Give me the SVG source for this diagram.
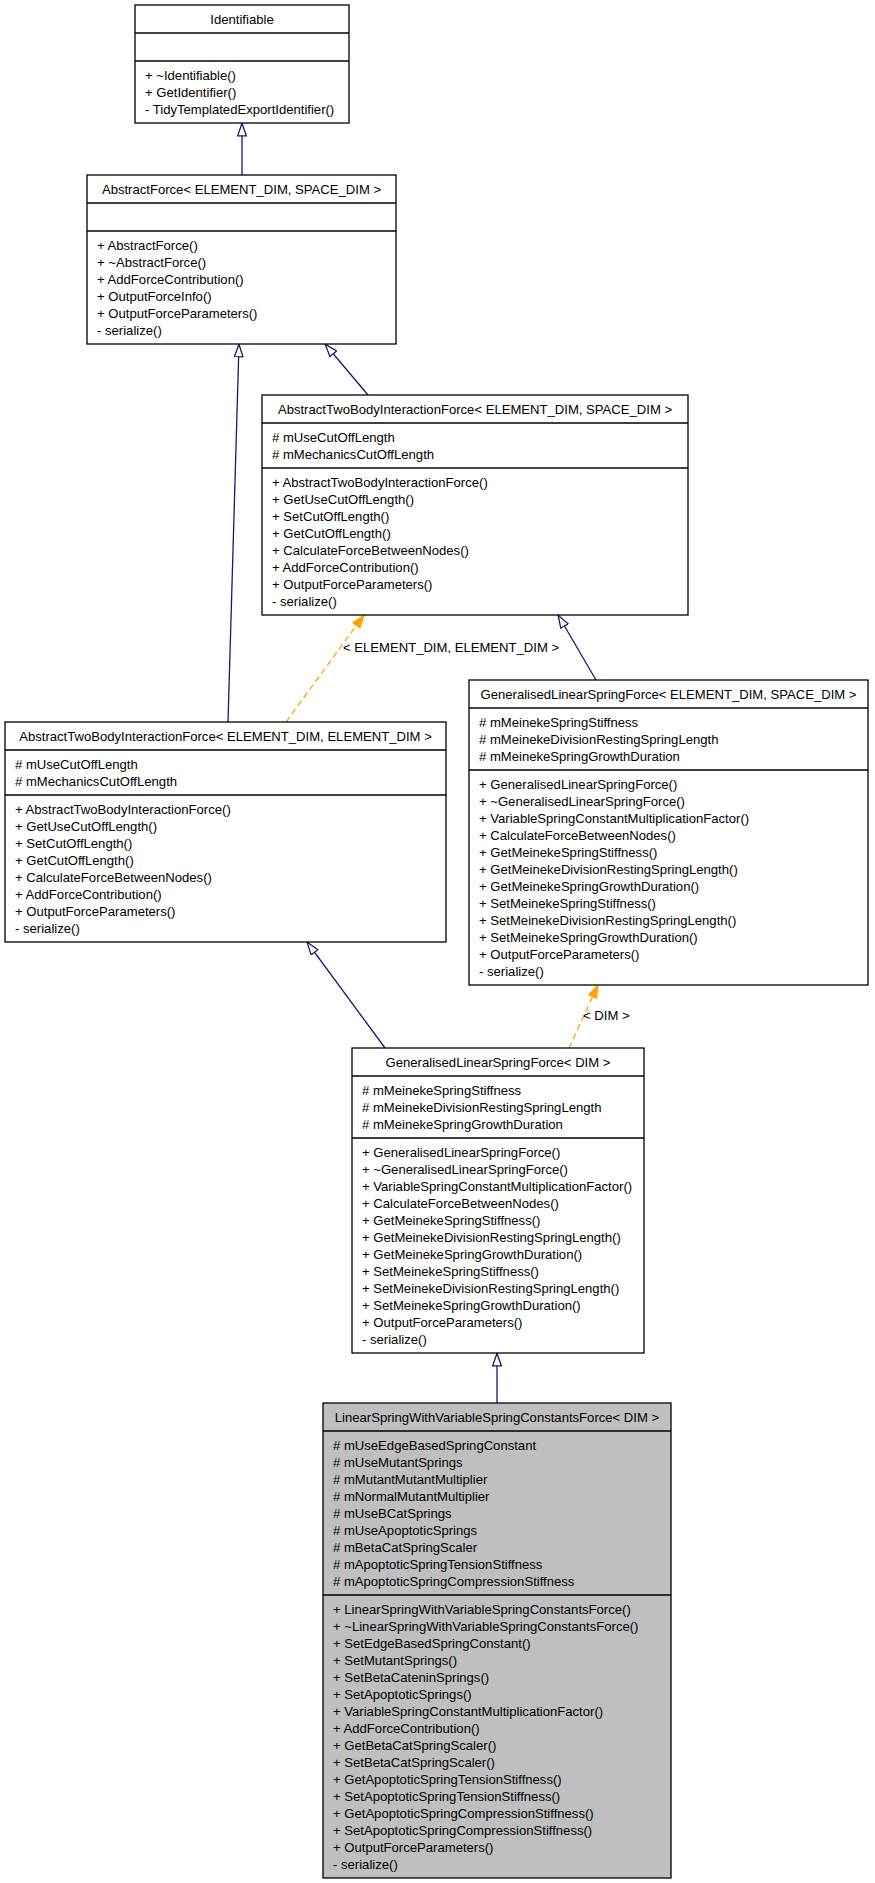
<svg xmlns="http://www.w3.org/2000/svg" width="875" height="1883" viewBox="0 0 875 1883">
<style>
.box{fill:#ffffff;stroke:#000000;stroke-width:1.3}
.sel{fill:#bfbfbf;stroke:#000000;stroke-width:1.3}
.div{stroke:#000000;stroke-width:1.3}
text{font-family:"Liberation Sans",Arial,Helvetica,sans-serif;font-size:13.1px;fill:#000000}
.t{text-anchor:middle}
.inh{fill:none;stroke:#191970;stroke-width:1.3}
.tpl{fill:none;stroke:#ffa500;stroke-width:1.3;stroke-dasharray:6,4}
</style>
<defs>
<marker id="hollow" viewBox="0 0 14 10" refX="13.5" refY="5" markerWidth="14" markerHeight="10" markerUnits="userSpaceOnUse" orient="auto">
<path d="M0.7,0.7 L13.3,5 L0.7,9.3 z" fill="#ffffff" stroke="#191970" stroke-width="1.3"/>
</marker>
<marker id="filled" viewBox="0 0 14 10" refX="13.5" refY="5" markerWidth="14" markerHeight="10" markerUnits="userSpaceOnUse" orient="auto">
<path d="M0.7,0.7 L13.3,5 L0.7,9.3 z" fill="#ffa500" stroke="#ffa500" stroke-width="1.3"/>
</marker>
</defs>

<g id="edges">
<line class="inh" x1="242" y1="175" x2="242" y2="123" marker-end="url(#hollow)"/>
<line class="inh" x1="368" y1="395" x2="325" y2="344" marker-end="url(#hollow)"/>
<line class="inh" x1="228" y1="722" x2="239" y2="344" marker-end="url(#hollow)"/>
<line class="tpl" x1="286" y1="722" x2="364" y2="615" marker-end="url(#filled)"/>
<text x="343" y="652">&lt; ELEMENT_DIM, ELEMENT_DIM &gt;</text>
<line class="inh" x1="596" y1="680" x2="558" y2="615" marker-end="url(#hollow)"/>
<line class="tpl" x1="569" y1="1048" x2="598" y2="985" marker-end="url(#filled)"/>
<text x="583" y="1020">&lt; DIM &gt;</text>
<line class="inh" x1="385" y1="1048" x2="307" y2="942" marker-end="url(#hollow)"/>
<line class="inh" x1="497" y1="1403" x2="497" y2="1353" marker-end="url(#hollow)"/>
</g>

<g id="Identifiable">
<rect class="box" x="135" y="5" width="214" height="118"/>
<line class="div" x1="135" y1="33" x2="349" y2="33"/>
<line class="div" x1="135" y1="61" x2="349" y2="61"/>
<text class="t" x="242" y="23.5">Identifiable</text>
<text x="145" y="79.5">+ ~Identifiable()</text>
<text x="145" y="96.5">+ GetIdentifier()</text>
<text x="145" y="113.5">- TidyTemplatedExportIdentifier()</text>
</g>

<g id="AbstractForce">
<rect class="box" x="87" y="175" width="309" height="169"/>
<line class="div" x1="87" y1="203" x2="396" y2="203"/>
<line class="div" x1="87" y1="231" x2="396" y2="231"/>
<text class="t" x="241.5" y="193.5">AbstractForce&lt; ELEMENT_DIM, SPACE_DIM &gt;</text>
<text x="97" y="249.5">+ AbstractForce()</text>
<text x="97" y="266.5">+ ~AbstractForce()</text>
<text x="97" y="283.5">+ AddForceContribution()</text>
<text x="97" y="300.5">+ OutputForceInfo()</text>
<text x="97" y="317.5">+ OutputForceParameters()</text>
<text x="97" y="334.5">- serialize()</text>
</g>

<g id="AbstractTwoBodyInteractionForce_ES">
<rect class="box" x="262" y="395" width="426" height="220"/>
<line class="div" x1="262" y1="423" x2="688" y2="423"/>
<line class="div" x1="262" y1="468" x2="688" y2="468"/>
<text class="t" x="475" y="413.5">AbstractTwoBodyInteractionForce&lt; ELEMENT_DIM, SPACE_DIM &gt;</text>
<text x="272" y="441.5"># mUseCutOffLength</text>
<text x="272" y="458.5"># mMechanicsCutOffLength</text>
<text x="272" y="486.5">+ AbstractTwoBodyInteractionForce()</text>
<text x="272" y="503.5">+ GetUseCutOffLength()</text>
<text x="272" y="520.5">+ SetCutOffLength()</text>
<text x="272" y="537.5">+ GetCutOffLength()</text>
<text x="272" y="554.5">+ CalculateForceBetweenNodes()</text>
<text x="272" y="571.5">+ AddForceContribution()</text>
<text x="272" y="588.5">+ OutputForceParameters()</text>
<text x="272" y="605.5">- serialize()</text>
</g>

<g id="AbstractTwoBodyInteractionForce_EE">
<rect class="box" x="5" y="722" width="441" height="220"/>
<line class="div" x1="5" y1="750" x2="446" y2="750"/>
<line class="div" x1="5" y1="795" x2="446" y2="795"/>
<text class="t" x="225.5" y="740.5">AbstractTwoBodyInteractionForce&lt; ELEMENT_DIM, ELEMENT_DIM &gt;</text>
<text x="15" y="768.5"># mUseCutOffLength</text>
<text x="15" y="785.5"># mMechanicsCutOffLength</text>
<text x="15" y="813.5">+ AbstractTwoBodyInteractionForce()</text>
<text x="15" y="830.5">+ GetUseCutOffLength()</text>
<text x="15" y="847.5">+ SetCutOffLength()</text>
<text x="15" y="864.5">+ GetCutOffLength()</text>
<text x="15" y="881.5">+ CalculateForceBetweenNodes()</text>
<text x="15" y="898.5">+ AddForceContribution()</text>
<text x="15" y="915.5">+ OutputForceParameters()</text>
<text x="15" y="932.5">- serialize()</text>
</g>

<g id="GeneralisedLinearSpringForce_ES">
<rect class="box" x="469" y="680" width="399" height="305"/>
<line class="div" x1="469" y1="708" x2="868" y2="708"/>
<line class="div" x1="469" y1="770" x2="868" y2="770"/>
<text class="t" x="668.5" y="698.5">GeneralisedLinearSpringForce&lt; ELEMENT_DIM, SPACE_DIM &gt;</text>
<text x="479" y="726.5"># mMeinekeSpringStiffness</text>
<text x="479" y="743.5"># mMeinekeDivisionRestingSpringLength</text>
<text x="479" y="760.5"># mMeinekeSpringGrowthDuration</text>
<text x="479" y="788.5">+ GeneralisedLinearSpringForce()</text>
<text x="479" y="805.5">+ ~GeneralisedLinearSpringForce()</text>
<text x="479" y="822.5">+ VariableSpringConstantMultiplicationFactor()</text>
<text x="479" y="839.5">+ CalculateForceBetweenNodes()</text>
<text x="479" y="856.5">+ GetMeinekeSpringStiffness()</text>
<text x="479" y="873.5">+ GetMeinekeDivisionRestingSpringLength()</text>
<text x="479" y="890.5">+ GetMeinekeSpringGrowthDuration()</text>
<text x="479" y="907.5">+ SetMeinekeSpringStiffness()</text>
<text x="479" y="924.5">+ SetMeinekeDivisionRestingSpringLength()</text>
<text x="479" y="941.5">+ SetMeinekeSpringGrowthDuration()</text>
<text x="479" y="958.5">+ OutputForceParameters()</text>
<text x="479" y="975.5">- serialize()</text>
</g>

<g id="GeneralisedLinearSpringForce_DIM">
<rect class="box" x="352" y="1048" width="292" height="305"/>
<line class="div" x1="352" y1="1076" x2="644" y2="1076"/>
<line class="div" x1="352" y1="1138" x2="644" y2="1138"/>
<text class="t" x="498" y="1066.5">GeneralisedLinearSpringForce&lt; DIM &gt;</text>
<text x="362" y="1094.5"># mMeinekeSpringStiffness</text>
<text x="362" y="1111.5"># mMeinekeDivisionRestingSpringLength</text>
<text x="362" y="1128.5"># mMeinekeSpringGrowthDuration</text>
<text x="362" y="1156.5">+ GeneralisedLinearSpringForce()</text>
<text x="362" y="1173.5">+ ~GeneralisedLinearSpringForce()</text>
<text x="362" y="1190.5">+ VariableSpringConstantMultiplicationFactor()</text>
<text x="362" y="1207.5">+ CalculateForceBetweenNodes()</text>
<text x="362" y="1224.5">+ GetMeinekeSpringStiffness()</text>
<text x="362" y="1241.5">+ GetMeinekeDivisionRestingSpringLength()</text>
<text x="362" y="1258.5">+ GetMeinekeSpringGrowthDuration()</text>
<text x="362" y="1275.5">+ SetMeinekeSpringStiffness()</text>
<text x="362" y="1292.5">+ SetMeinekeDivisionRestingSpringLength()</text>
<text x="362" y="1309.5">+ SetMeinekeSpringGrowthDuration()</text>
<text x="362" y="1326.5">+ OutputForceParameters()</text>
<text x="362" y="1343.5">- serialize()</text>
</g>

<g id="LinearSpringWithVariableSpringConstantsForce_DIM">
<rect class="sel" x="323" y="1403" width="348" height="475"/>
<line class="div" x1="323" y1="1431" x2="671" y2="1431"/>
<line class="div" x1="323" y1="1595" x2="671" y2="1595"/>
<text class="t" x="497" y="1421.5">LinearSpringWithVariableSpringConstantsForce&lt; DIM &gt;</text>
<text x="333" y="1449.5"># mUseEdgeBasedSpringConstant</text>
<text x="333" y="1466.5"># mUseMutantSprings</text>
<text x="333" y="1483.5"># mMutantMutantMultiplier</text>
<text x="333" y="1500.5"># mNormalMutantMultiplier</text>
<text x="333" y="1517.5"># mUseBCatSprings</text>
<text x="333" y="1534.5"># mUseApoptoticSprings</text>
<text x="333" y="1551.5"># mBetaCatSpringScaler</text>
<text x="333" y="1568.5"># mApoptoticSpringTensionStiffness</text>
<text x="333" y="1585.5"># mApoptoticSpringCompressionStiffness</text>
<text x="333" y="1613.5">+ LinearSpringWithVariableSpringConstantsForce()</text>
<text x="333" y="1630.5">+ ~LinearSpringWithVariableSpringConstantsForce()</text>
<text x="333" y="1647.5">+ SetEdgeBasedSpringConstant()</text>
<text x="333" y="1664.5">+ SetMutantSprings()</text>
<text x="333" y="1681.5">+ SetBetaCateninSprings()</text>
<text x="333" y="1698.5">+ SetApoptoticSprings()</text>
<text x="333" y="1715.5">+ VariableSpringConstantMultiplicationFactor()</text>
<text x="333" y="1732.5">+ AddForceContribution()</text>
<text x="333" y="1749.5">+ GetBetaCatSpringScaler()</text>
<text x="333" y="1766.5">+ SetBetaCatSpringScaler()</text>
<text x="333" y="1783.5">+ GetApoptoticSpringTensionStiffness()</text>
<text x="333" y="1800.5">+ SetApoptoticSpringTensionStiffness()</text>
<text x="333" y="1817.5">+ GetApoptoticSpringCompressionStiffness()</text>
<text x="333" y="1834.5">+ SetApoptoticSpringCompressionStiffness()</text>
<text x="333" y="1851.5">+ OutputForceParameters()</text>
<text x="333" y="1868.5">- serialize()</text>
</g>
</svg>
